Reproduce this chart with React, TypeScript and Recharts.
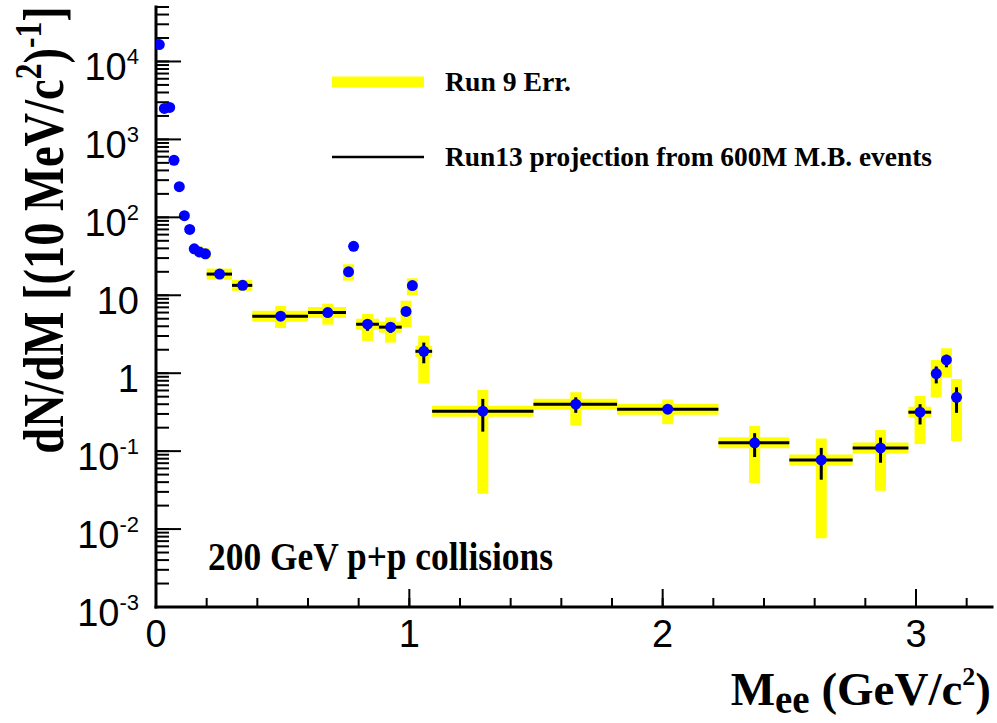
import React from "react";
import { ComposedChart, Scatter, ErrorBar, XAxis, YAxis } from "recharts";

// dielectron mass points (GeV/c^2) and dN/dM values
const mass = [
  0.013, 0.033, 0.054, 0.071, 0.092, 0.112, 0.133, 0.151, 0.171, 0.195, 0.251, 0.342, 0.492, 0.678, 0.76,
  0.78, 0.835, 0.926, 0.987, 1.012, 1.057, 1.29, 1.657, 2.02, 2.363, 2.626, 2.86, 3.016, 3.08, 3.12, 3.16,
];
const yieldVals = [
  16500, 2500, 2570, 540, 247, 105, 70, 39.5, 36, 34, 18.7, 13.4, 5.4, 6.0, 20, 42.5, 4.25, 3.9, 6.2, 13.3,
  1.91, 0.326, 0.4, 0.345, 0.128, 0.077, 0.11, 0.316, 0.99, 1.48, 0.49,
];

// bin edges (null = no horizontal bar)
const binLo = [
  null, null, null, null, null, null, null, null, 0.16, 0.185, 0.2, 0.3, 0.38, 0.6, null, null, 0.79, 0.88,
  null, null, 1.024, 1.09, 1.49, 1.82, 2.22, 2.5, 2.75, 2.97, null, null, null,
];
const binHi = [
  null, null, null, null, null, null, null, null, 0.185, 0.21, 0.3, 0.38, 0.6, 0.75, null, null, 0.88, 0.97,
  null, null, 1.09, 1.49, 1.82, 2.22, 2.5, 2.75, 2.97, 3.06, null, null, null,
];

// Run 9 error band (yellow)
const run9Lo = [
  null, null, null, null, null, null, null, null, 33, 31, 17, 12.4, 3.8, 4.2, 15.4, null, 2.6, 2.47, 3.9, 10,
  0.74, 0.0284, 0.213, 0.222, 0.039, 0.0076, 0.031, 0.123, 0.49, 0.88, 0.135,
];
const run9Hi = [
  null, null, null, null, null, null, null, null, 39, 37, 20.5, 14.5, 7.3, 7.8, 25, null, 5.75, 5.2, 8.5, 16.5,
  3.03, 0.61, 0.57, 0.46, 0.211, 0.145, 0.187, 0.51, 1.48, 2.09, 0.84,
];

// Run13 projection errors (black)
const run13Lo = [
  null, null, null, null, null, null, null, null, null, null, 18, 13, 5.0, 5.6, null, null, 3.5, 3.3, 5.5, null,
  1.34, 0.178, 0.31, 0.3, 0.084, 0.043, 0.071, 0.22, 0.74, 1.19, 0.31,
];
const run13Hi = [
  null, null, null, null, null, null, null, null, null, null, 19.4, 13.8, 5.8, 6.4, null, null, 4.8, 4.4, 6.9, null,
  2.47, 0.468, 0.49, 0.39, 0.17, 0.11, 0.149, 0.4, 1.22, 1.72, 0.66,
];

const xTicks = [0, 0.2, 0.4, 0.6, 0.8, 1, 1.2, 1.4, 1.6, 1.8, 2, 2.2, 2.4, 2.6, 2.8, 3, 3.2];
const xMajor = [0, 1, 2, 3];
const yDecades = [0.001, 0.01, 0.1, 1, 10, 100, 1000, 10000];
const yTickLabels = [
  ["10", "-3"],
  ["10", "-2"],
  ["10", "-1"],
  ["1", ""],
  ["10", ""],
  ["10", "2"],
  ["10", "3"],
  ["10", "4"],
];
const yMinorSteps = [2, 3, 4, 5, 6, 7, 8, 9];

const yTicks: number[] = [];
yDecades.forEach((d) => {
  yTicks.push(d);
  yMinorSteps.forEach((m) => {
    if (d * m <= 50000) yTicks.push(d * m);
  });
});

const points = mass.map((x, i) => {
  const y = yieldVals[i];
  const hasBin = binLo[i] != null && binHi[i] != null;
  return {
    x,
    y,
    ex9: hasBin ? [x - (binLo[i] as number), (binHi[i] as number) - x] : null,
    ey9: run9Lo[i] != null ? [y - (run9Lo[i] as number), (run9Hi[i] as number) - y] : null,
    ex13: hasBin && run13Lo[i] != null ? [x - (binLo[i] as number), (binHi[i] as number) - x] : null,
    ey13: run13Lo[i] != null ? [y - (run13Lo[i] as number), (run13Hi[i] as number) - y] : null,
  };
});

const SANS = "'Liberation Sans', Arial, Helvetica, sans-serif";
const SERIF = "'Liberation Serif', 'Times New Roman', Times, serif";

// built-in tick lines point inward (negative tickSize, 13px / 9px);
// custom ticks add the longer major marks and the labels
const LeftTick = (props: any) => {
  const { x, y, payload } = props;
  const i = yDecades.indexOf(payload.value);
  const major = i >= 0;
  return (
    <g>
      {major && <path d={`M${x},${y}h25`} stroke="#000" strokeWidth={2} fill="none" />}
      {major && (
        <text x={x - 17} y={y + 19} textAnchor="end" fontFamily={SANS} fontSize={38} fill="#000" stroke="none">
          {yTickLabels[i][0]}
          {yTickLabels[i][1] !== "" && (
            <tspan dy={-16} fontSize={22}>
              {yTickLabels[i][1]}
            </tspan>
          )}
        </text>
      )}
    </g>
  );
};

const RightTick = (props: any) => {
  const { x, y, payload } = props;
  const major = yDecades.indexOf(payload.value) >= 0;
  return major ? <path d={`M${x},${y}h-25`} stroke="#000" strokeWidth={2} fill="none" /> : <g />;
};

const BottomTick = (props: any) => {
  const { x, y, payload } = props;
  const major = xMajor.indexOf(payload.value) >= 0;
  return (
    <g>
      {major && <path d={`M${x},${y}v-18`} stroke="#000" strokeWidth={2} fill="none" />}
      {major && (
        <text x={x} y={y + 40} textAnchor="middle" fontFamily={SANS} fontSize={38} fill="#000" stroke="none">
          {payload.value}
        </text>
      )}
    </g>
  );
};

const TopTick = (props: any) => {
  const { x, y, payload } = props;
  const major = xMajor.indexOf(payload.value) >= 0;
  return major ? <path d={`M${x},${y}v18`} stroke="#000" strokeWidth={2} fill="none" /> : <g />;
};

const noShape = () => <g />;
const blueDot = (p: any) => <circle cx={p.cx} cy={p.cy} r={5.5} fill="#0000ff" />;

const frame = { stroke: "#000", strokeWidth: 3, strokeLinecap: "square" as const };
const tickStroke = { stroke: "#000", strokeWidth: 2 };

const box = (left: number, top: number, width: number, height: number): React.CSSProperties => ({
  position: "absolute",
  left,
  top,
  width,
  height,
  pointerEvents: "none",
  overflow: "visible",
});

export default function App() {
  return (
    <div style={{ position: "absolute", left: 0, top: 0, width: 997, height: 723, background: "#fff" }}>
      <ComposedChart width={997} height={723} data={points} margin={{ top: 7, right: 5, bottom: 0, left: 0 }}>
        <XAxis
          dataKey="x"
          type="number"
          domain={[0, 3.3]}
          allowDataOverflow
          ticks={xTicks}
          interval={0}
          height={116}
          tickSize={-9}
          tickMargin={9}
          tickLine={tickStroke}
          axisLine={frame}
          tick={<BottomTick />}
        />
        <XAxis
          xAxisId="top"
          dataKey="x"
          orientation="top"
          type="number"
          domain={[0, 3.3]}
          allowDataOverflow
          ticks={xTicks}
          interval={0}
          height={0}
          tickSize={-9}
          tickMargin={9}
          tickLine={tickStroke}
          axisLine={frame}
          tick={<TopTick />}
        />
        <YAxis
          dataKey="y"
          type="number"
          scale="log"
          domain={[0.001, 50000]}
          allowDataOverflow
          ticks={yTicks}
          interval={0}
          width={156}
          tickSize={-13}
          tickMargin={13}
          tickLine={tickStroke}
          axisLine={frame}
          tick={<LeftTick />}
        />
        <YAxis
          yAxisId="right"
          dataKey="y"
          orientation="right"
          type="number"
          scale="log"
          domain={[0.001, 50000]}
          allowDataOverflow
          ticks={yTicks}
          interval={0}
          width={0}
          tickSize={-13}
          tickMargin={13}
          tickLine={tickStroke}
          axisLine={frame}
          tick={<RightTick />}
        />
        {/* invisible series so the mirrored top/right frame axes get drawn */}
        <Scatter xAxisId="top" yAxisId="right" data={points} shape={noShape} isAnimationActive={false} />
        <Scatter name="Run 9 Err." data={points} shape={noShape} isAnimationActive={false}>
          <ErrorBar dataKey="ex9" direction="x" width={0} stroke="#ffff00" strokeWidth={11} isAnimationActive={false} />
          <ErrorBar dataKey="ey9" direction="y" width={0} stroke="#ffff00" strokeWidth={11} isAnimationActive={false} />
        </Scatter>
        <Scatter name="Run13 projection" data={points} shape={noShape} isAnimationActive={false}>
          <ErrorBar dataKey="ex13" direction="x" width={0} stroke="#000" strokeWidth={3} isAnimationActive={false} />
          <ErrorBar dataKey="ey13" direction="y" width={0} stroke="#000" strokeWidth={3} isAnimationActive={false} />
        </Scatter>
        <Scatter name="data" data={points} shape={blueDot} isAnimationActive={false} />
      </ComposedChart>

      {/* legend */}
      <svg width={630} height={120} viewBox="320 60 630 120" style={box(320, 60, 630, 120)}>
        <rect x={332} y={76.5} width={92} height={11} fill="#ffff00" />
        <text x={445} y={91} fontFamily={SERIF} fontWeight="bold" fontSize={28} textLength={126} lengthAdjust="spacingAndGlyphs">
          Run 9 Err.
        </text>
        <line x1={332} x2={424} y1={157} y2={157} stroke="#000" strokeWidth={2.5} />
        <text x={445} y={166} fontFamily={SERIF} fontWeight="bold" fontSize={28} textLength={487} lengthAdjust="spacingAndGlyphs">
          Run13 projection from 600M M.B. events
        </text>
      </svg>

      {/* annotation */}
      <svg width={370} height={50} viewBox="200 530 370 50" style={box(200, 530, 370, 50)}>
        <text x={208} y={570} fontFamily={SERIF} fontWeight="bold" fontSize={40} textLength={345} lengthAdjust="spacingAndGlyphs">
          200 GeV p+p collisions
        </text>
      </svg>

      {/* x title */}
      <svg width={297} height={60} viewBox="700 660 297 60" style={box(700, 660, 297, 60)}>
        <text x={991} y={705} textAnchor="end" fontFamily={SERIF} fontWeight="bold" fontSize={47}>
          M
          <tspan dy={8} fontSize={39}>ee</tspan>
          <tspan dy={-8}> (GeV/c</tspan>
          <tspan dy={-20} fontSize={26}>2</tspan>
          <tspan dy={20}>)</tspan>
        </text>
      </svg>

      {/* y title */}
      <svg width={75} height={480} viewBox="0 0 75 480" style={box(0, 0, 75, 480)}>
        <g transform="translate(63 230) rotate(-90) scale(0.83 1)">
          <text x={0} y={0} textAnchor="middle" fontFamily={SERIF} fontWeight="bold" fontSize={56}>
            dN/dM [(10 MeV/c
            <tspan dy={-22} fontSize={38}>2</tspan>
            <tspan dy={22}>)</tspan>
            <tspan dy={-22} fontSize={38}>-1</tspan>
            <tspan dy={22}>]</tspan>
          </text>
        </g>
      </svg>
    </div>
  );
}
